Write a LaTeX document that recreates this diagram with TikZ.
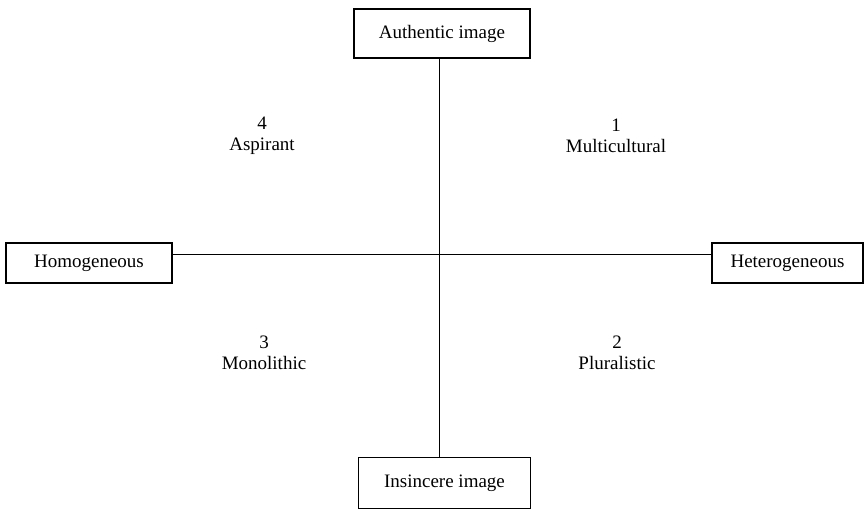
\documentclass[tikz,border=0pt]{standalone}
\usepackage{fontspec}
\setmainfont{Liberation Serif}
\begin{document}
\begin{tikzpicture}[x=1pt,y=-1pt,
  every node/.style={font=\fontsize{19}{21.5}\selectfont, inner sep=0pt},
  pole/.style={draw, line width=1.3pt, minimum width=#1},
  axis/.style={line width=1pt},
  quad/.style={align=center}]
\useasboundingbox (0,0) rectangle (864,511);
\node[pole=176, minimum height=49] (top) at (442,33.5) {Authentic image};
\node[pole=172, minimum height=51] (bottom) at (444.5,483) {Insincere image};
\node[pole=166, minimum height=40] (left) at (89,263) {Homogeneous};
\node[pole=151, minimum height=40] (right) at (787.5,263) {Heterogeneous};
\coordinate (c) at (439,254);
\draw[axis] (c |- top.south) -- (c |- bottom.north);
\draw[axis] (left.east |- c) -- (right.west |- c);
\node[quad] (q4) at (262,136) {4\\Aspirant};
\node[quad] (q1) at (616,136) {1\\Multicultural};
\node[quad] (q3) at (264,353) {3\\Monolithic};
\node[quad] (q2) at (617,353) {2\\Pluralistic};
\end{tikzpicture}
\end{document}
